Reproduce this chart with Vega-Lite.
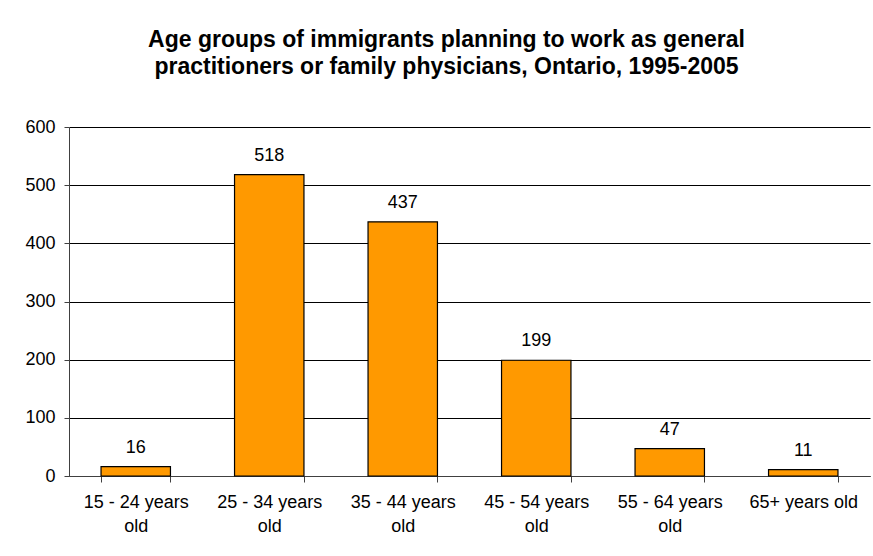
{
  "$schema": "https://vega.github.io/schema/vega-lite/v6.json",
  "autosize": "none",
  "width": 801,
  "height": 349,
  "padding": {"left": 69, "top": 127, "right": 3, "bottom": 80},
  "background": "white",
  "title": {
    "text": ["Age groups of immigrants planning to work as general", "practitioners or family physicians, Ontario, 1995-2005"],
    "font": "Liberation Sans",
    "fontSize": 23,
    "fontWeight": "bold",
    "color": "black",
    "lineHeight": 27,
    "anchor": "middle",
    "dx": -23,
    "offset": 39
  },
  "data": {
    "values": [
      {"age": "15 - 24 years old", "count": 16},
      {"age": "25 - 34 years old", "count": 518},
      {"age": "35 - 44 years old", "count": 437},
      {"age": "45 - 54 years old", "count": 199},
      {"age": "55 - 64 years old", "count": 47},
      {"age": "65+ years old", "count": 11}
    ]
  },
  "config": {
    "view": {"stroke": null},
    "font": "Liberation Sans",
    "axis": {
      "labelFont": "Liberation Sans",
      "labelFontSize": 18,
      "labelColor": "black",
      "domainColor": "#404040",
      "tickColor": "#404040",
      "title": null
    }
  },
  "encoding": {
    "x": {
      "field": "age",
      "type": "nominal",
      "sort": null,
      "scale": {"paddingInner": 0.48, "paddingOuter": 0.24},
      "axis": {
        "labelAngle": 0,
        "labelPadding": 11,
        "tickSize": 6,
        "tickBand": "extent",
        "labelLineHeight": 24,
        "labelExpr": "(datum.label == null || datum.label == '') ? '' : (datum.label == '65+ years old' ? datum.label : [replace(datum.label, ' old', ''), 'old'])",
        "grid": false
      }
    },
    "y": {
      "field": "count",
      "type": "quantitative",
      "scale": {"domain": [0, 600]},
      "axis": {
        "values": [0, 100, 200, 300, 400, 500, 600],
        "tickSize": 5,
        "labelPadding": 9,
        "grid": true,
        "gridColor": "black",
        "gridOpacity": 1,
        "gridWidth": 1
      }
    }
  },
  "layer": [
    {
      "mark": {"type": "bar", "color": "#FF9900", "stroke": "black", "strokeWidth": 1.2}
    },
    {
      "mark": {"type": "text", "baseline": "alphabetic", "dy": -14, "fontSize": 18, "color": "black", "font": "Liberation Sans"},
      "encoding": {"text": {"field": "count", "type": "quantitative"}}
    }
  ]
}
